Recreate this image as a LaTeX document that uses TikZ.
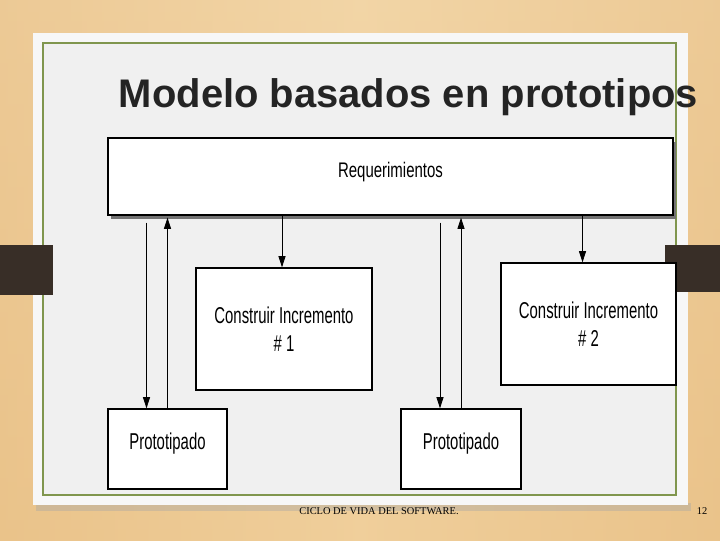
\documentclass[tikz,border=0pt]{standalone}
\usepackage{fontspec}
\setmainfont{Liberation Sans}
\newfontfamily\angosta[FakeStretch=0.65]{Liberation Sans}
\newfontfamily\angostareq[FakeStretch=0.71]{Liberation Sans}
\newfontfamily\pieletra{Liberation Serif}
\usetikzlibrary{arrows.meta,calc,shadows}

\begin{document}
\begin{tikzpicture}[x=0.025cm, y=-0.025cm]

\definecolor{maderaclara}{RGB}{245,220,178}
\definecolor{madera}{RGB}{240,207,155}
\definecolor{maderaosc}{RGB}{229,184,122}
\definecolor{hoja}{RGB}{240,240,240}
\definecolor{verdeb}{RGB}{128,150,78}
\definecolor{pestana}{RGB}{56,46,39}

\tikzset{
  caja/.style={draw=black, line width=0.9pt, fill=white, align=center,
    font=\angosta\fontsize{16.3}{20}\selectfont},
  flecha/.style={line width=0.6pt, -{Triangle[length=8pt,width=5pt]}}
}

% Fondo madera
\shade[top color=maderaclara, bottom color=madera] (0,0) rectangle (720,540);
\shade[left color=maderaosc, right color=maderaosc, middle color=madera, opacity=0.5]
  (0,0) rectangle (720,540);
\useasboundingbox (0,0) rectangle (720,540);

% Hoja blanca con borde verde
\fill[black!35, opacity=0.4] (36,503) rectangle (691,511);
\fill[white!97!black] (33,33) rectangle (688,505);
\fill[hoja] (43,43) rectangle (676,495);
\draw[verdeb, line width=1.1pt] (43,43) rectangle (676,495);

% Pestanas oscuras
\fill[pestana] (0,245) rectangle (53,295);
\fill[pestana] (665,245) rectangle (720,292);

% Titulo
\node[anchor=base west, text=black!86, font=\bfseries\fontsize{28.4}{32}\selectfont]
  (titulo) at (114,107) {Modelo basados en prototipos};

% === CAJAS ===
\node[caja, minimum width=565*0.025cm, minimum height=77*0.025cm,
  font=\angostareq\fontsize{15}{18}\selectfont,
  drop shadow={shadow xshift=2pt, shadow yshift=-3pt, fill=black!55, opacity=1}]
  (req) at (390.5,176.5) {\raisebox{3pt}[9pt][2pt]{Requerimientos}};
\node[caja, minimum width=176*0.025cm, minimum height=122*0.025cm]
  (inc1) at (284,329) {Construir Incremento\\\# 1};
\node[caja, minimum width=175*0.025cm, minimum height=122*0.025cm]
  (inc2) at (588.5,324) {Construir Incremento\\\# 2};
\node[caja, minimum width=119*0.025cm, minimum height=80*0.025cm]
  (proto1) at (167.5,449) {\raisebox{4pt}[10pt][2pt]{Prototipado}};
\node[caja, minimum width=120*0.025cm, minimum height=80*0.025cm]
  (proto2) at (461,449) {\raisebox{4pt}[10pt][2pt]{Prototipado}};

% === FLECHAS ===
\coordinate (baja1) at ($(proto1.north)+(-21,0)$);
\coordinate (baja2) at ($(proto2.north)+(-21,0)$);
\draw[flecha] ($(baja1 |- req.south)+(0,7)$) -- (baja1);
\draw[flecha] (proto1.north) -- ($(proto1.north |- req.south)+(0,2)$);
\draw[flecha] ($(baja2 |- req.south)+(0,7)$) -- (baja2);
\draw[flecha] (proto2.north) -- ($(proto2.north |- req.south)+(0,2)$);
\draw[flecha] ($(req.south -| inc1.north)+(-2,0)$) -- ($(inc1.north)+(-2,0)$);
\draw[flecha] ($(req.south -| inc2.north)+(-6,0)$) -- ($(inc2.north)+(-6,0)$);

% Pie de pagina
\node[anchor=base, font=\pieletra\fontsize{7.4}{9}\selectfont]
  (pie) at (379,514) {CICLO DE VIDA DEL SOFTWARE.};
\node[anchor=base, font=\pieletra\fontsize{7.4}{9}\selectfont]
  (pagina) at (702,514) {12};

\end{tikzpicture}
\end{document}
